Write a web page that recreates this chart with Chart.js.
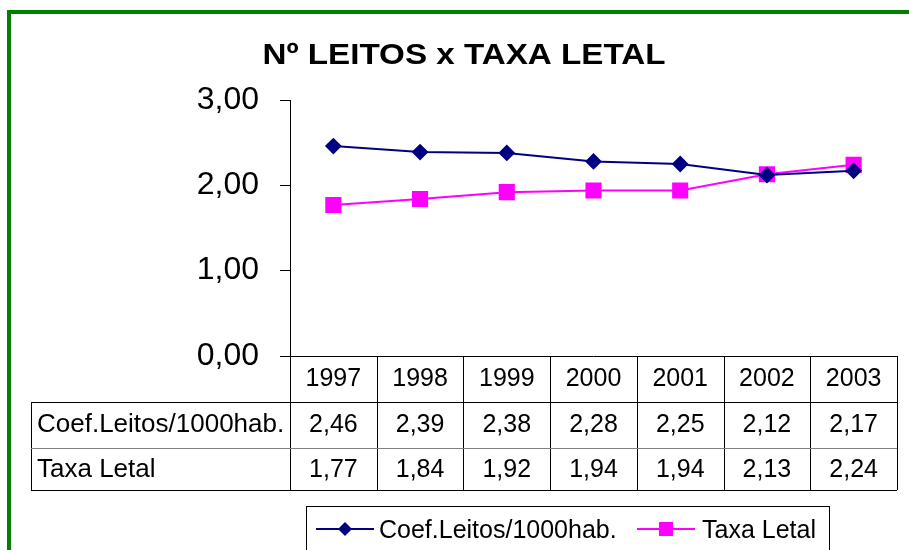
<!DOCTYPE html>
<html>
<head>
<meta charset="utf-8">
<script src="https://cdn.jsdelivr.net/npm/chart.js@4/dist/chart.umd.min.js"></script>
<style>
    html, body { margin: 0; padding: 0; background: #fff; }
    #box { width: 909px; height: 550px; }
</style>
</head>
<body>
<div id="box"><canvas id="graficoLeitos"></canvas></div>
<script>
/* DADOS */
const anos = ["1997", "1998", "1999", "2000", "2001", "2002", "2003"];
const coefLeitos = [2.46, 2.39, 2.38, 2.28, 2.25, 2.12, 2.17];
const taxaLetal = [1.77, 1.84, 1.92, 1.94, 1.94, 2.13, 2.24];
const nomes = ["Coef.Leitos/1000hab.", "Taxa Letal"];
const cores = ["#000080", "#ff00ff"];

const FONTE = '"Liberation Sans", Arial, sans-serif';
const virgula = v => v.toFixed(2).replace(".", ",");

/* TABELA, TITULO, LEGENDA E MOLDURA */
const extras = {
    id: "extras",
    afterDraw(chart) {
        const ctx = chart.ctx;
        const area = chart.chartArea;
        const x = chart.scales.x;
        const passo = area.width / anos.length;
        ctx.save();

        // moldura verde
        ctx.strokeStyle = "#008000";
        ctx.lineWidth = 4;
        ctx.strokeRect(9, 12, 1200, 1200);

        // titulo (um pouco esticado na horizontal, como no original)
        const titulo = "Nº LEITOS x TAXA LETAL";
        ctx.fillStyle = "#000";
        ctx.font = "bold 30px " + FONTE;
        ctx.textAlign = "center";
        ctx.textBaseline = "alphabetic";
        const esticar = 403 / ctx.measureText(titulo).width;
        ctx.save();
        ctx.translate(464, 64);
        ctx.scale(esticar, 1);
        ctx.fillText(titulo, 0, 0);
        ctx.restore();

        // tabela
        const y0 = area.bottom, y1 = 402, y2 = 448, y3 = 490, esq = 31;
        ctx.strokeStyle = "#000";
        ctx.lineWidth = 1;
        ctx.beginPath();
        ctx.moveTo(area.left, y0 + 0.5); ctx.lineTo(area.right, y0 + 0.5);
        ctx.moveTo(esq, y1 + 0.5); ctx.lineTo(area.right, y1 + 0.5);
        ctx.moveTo(esq, y3 + 0.5); ctx.lineTo(area.right, y3 + 0.5);
        ctx.moveTo(esq + 0.5, y1); ctx.lineTo(esq + 0.5, y3);
        for (let i = 0; i <= anos.length; i++) {
            const cx = Math.round(area.left + i * passo) + 0.5;
            ctx.moveTo(cx, y0); ctx.lineTo(cx, y3);
        }
        ctx.stroke();
        ctx.strokeStyle = "#808080";
        ctx.beginPath();
        ctx.moveTo(esq, y2 + 0.5); ctx.lineTo(area.right, y2 + 0.5);
        ctx.stroke();

        ctx.font = "25px " + FONTE;
        ctx.fillStyle = "#000";
        ctx.textAlign = "center";
        anos.forEach((a, i) => {
            const cx = x.getPixelForValue(i);
            ctx.fillText(a, cx, 386);
            ctx.fillText(virgula(coefLeitos[i]), cx, 432);
            ctx.fillText(virgula(taxaLetal[i]), cx, 477);
        });
        ctx.textAlign = "left";
        ctx.font = "26px " + FONTE;
        ctx.fillText(nomes[0], 37, 432);
        ctx.fillText(nomes[1], 37, 477);

        // legenda
        ctx.font = "25px " + FONTE;
        ctx.strokeStyle = "#000";
        ctx.strokeRect(306.5, 506.5, 523, 100);
        const itens = [
            { x1: 316, x2: 374, tx: 379 },
            { x1: 637, x2: 695, tx: 702 }
        ];
        const ly = 529;
        itens.forEach((it, k) => {
            ctx.strokeStyle = cores[k];
            ctx.fillStyle = cores[k];
            ctx.lineWidth = 2;
            ctx.beginPath();
            ctx.moveTo(it.x1, ly); ctx.lineTo(it.x2, ly);
            ctx.stroke();
            const mx = (it.x1 + it.x2) / 2;
            ctx.beginPath();
            if (k === 0) {
                ctx.moveTo(mx - 7, ly); ctx.lineTo(mx, ly - 7);
                ctx.lineTo(mx + 7, ly); ctx.lineTo(mx, ly + 7);
                ctx.closePath();
            } else {
                ctx.rect(mx - 7, ly - 7, 14, 14);
            }
            ctx.fill();
            ctx.fillStyle = "#000";
            ctx.fillText(nomes[k], it.tx, 538);
        });

        ctx.restore();
    }
};

new Chart(document.getElementById("graficoLeitos"), {
    type: "line",
    data: {
        labels: anos,
        datasets: [{
            label: nomes[0],
            data: coefLeitos,
            borderColor: cores[0],
            backgroundColor: cores[0],
            borderWidth: 2,
            pointStyle: "rectRot",
            pointRadius: 7,
            pointHoverRadius: 7,
            fill: false,
            tension: 0
        }, {
            label: nomes[1],
            data: taxaLetal,
            borderColor: cores[1],
            backgroundColor: cores[1],
            borderWidth: 2,
            pointStyle: "rect",
            pointRadius: 10,
            pointHoverRadius: 10,
            fill: false,
            tension: 0
        }]
    },
    options: {
        responsive: true,
        maintainAspectRatio: false,
        animation: false,
        events: [],
        layout: { padding: { top: 100, right: 9, bottom: 194, left: 0 } },
        plugins: {
            legend: { display: false },
            title: { display: false },
            tooltip: { enabled: false }
        },
        scales: {
            x: { display: false, offset: true },
            y: {
                min: 0,
                max: 3,
                afterFit(s) { s.width = 290; },
                ticks: {
                    stepSize: 1,
                    padding: 21,
                    color: "#000",
                    font: { family: FONTE, size: 32 },
                    callback: v => virgula(v)
                },
                grid: {
                    drawOnChartArea: false,
                    drawTicks: true,
                    tickLength: 10,
                    color: "#000"
                },
                border: { display: true, color: "#000", width: 1 }
            }
        }
    },
    plugins: [extras]
});
</script>
</body>
</html>
